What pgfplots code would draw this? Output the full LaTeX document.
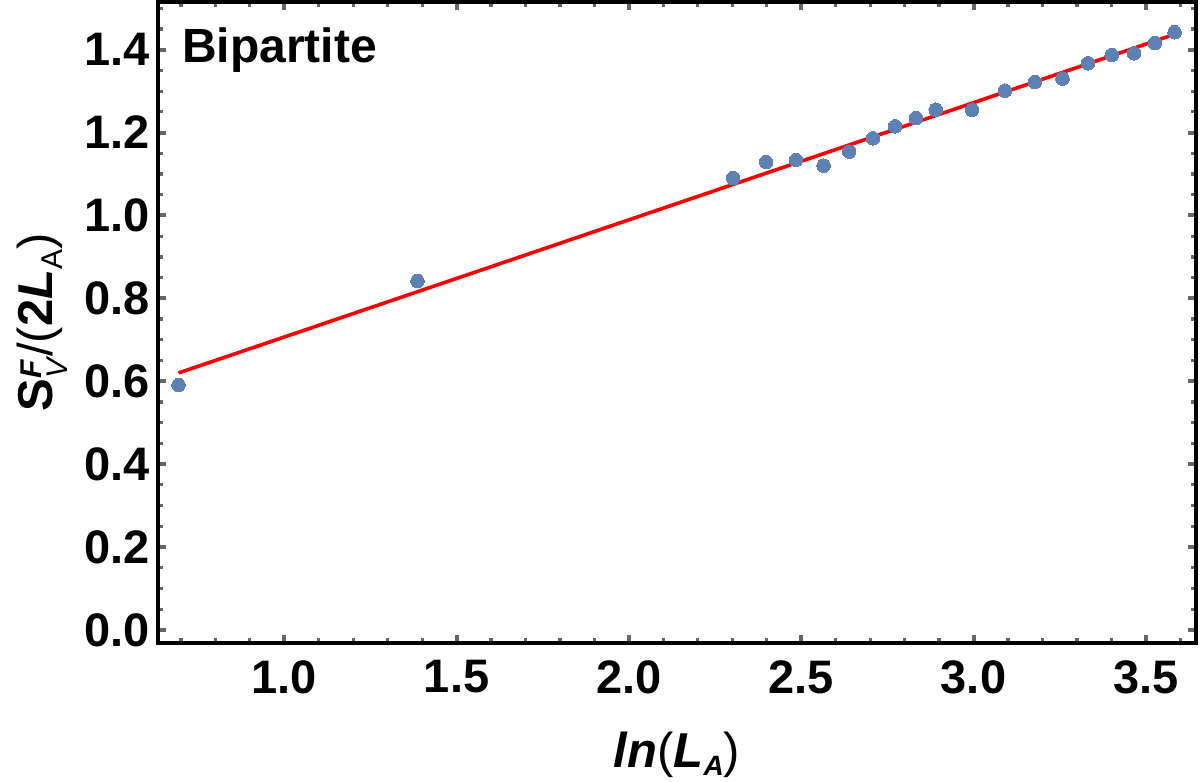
\documentclass[border=0pt]{standalone}
\usepackage{fontspec}
\setmainfont{Liberation Sans}
\usepackage{pgfplots}
\pgfplotsset{compat=1.18}

\definecolor{ptblue}{rgb}{0.368417,0.506779,0.709798}
\definecolor{tickgray}{gray}{0.4}

\begin{document}
\begin{tikzpicture}
\begin{axis}[
  scale only axis,
  width=518.9pt, height=320.5pt,
  xmin=0.6335, xmax=3.645,
  ymin=-0.0314, ymax=1.515,
  axis line style={line width=1.8pt, black},
  xtick={1,1.5,2,2.5,3,3.5},
  ytick={0,0.2,0.4,0.6,0.8,1.0,1.2,1.4},
  minor xtick={0.7,0.8,0.9,1.1,1.2,1.3,1.4,1.6,1.7,1.8,1.9,2.1,2.2,2.3,2.4,2.6,2.7,2.8,2.9,3.1,3.2,3.3,3.4,3.6},
  minor ytick={0.05,0.1,0.15,0.25,0.3,0.35,0.45,0.5,0.55,0.65,0.7,0.75,0.85,0.9,0.95,1.05,1.1,1.15,1.25,1.3,1.35,1.45,1.5},
  tick align=inside,
  xtick pos=both, ytick pos=both,
  ticklabel pos=left,
  major tick length=4pt, minor tick length=2.6pt,
  tick style={tickgray, line width=1.6pt},
  major tick style={line width=2pt},
  /pgf/number format/assume math mode=true,
  /pgf/number format/fixed,
  /pgf/number format/fixed zerofill,
  /pgf/number format/precision=1,
  tick label style={font=\fontsize{23.5}{28}\selectfont\bfseries},
  xticklabel style={inner sep=0pt, anchor=north, yshift=-8.5pt},
  yticklabel style={inner sep=0pt, anchor=east, xshift=-4pt},
  clip=false,
]
% measured values
\addplot[only marks, color=ptblue, mark=*, mark size=3.4pt, mark options={draw=ptblue, fill=ptblue, line width=0pt}] coordinates {
  (0.6931,0.591) (1.3863,0.842) (2.3026,1.090) (2.3979,1.129) (2.4849,1.134)
  (2.5649,1.120) (2.6391,1.154) (2.7081,1.186) (2.7726,1.215) (2.8332,1.235)
  (2.8904,1.255) (2.9957,1.255) (3.0910,1.301) (3.1781,1.322) (3.2581,1.330)
  (3.3322,1.367) (3.4012,1.387) (3.4657,1.391) (3.5264,1.416) (3.5835,1.442)
};
% linear fit
\addplot[red, line width=1.8pt] coordinates {(0.6931,0.620) (3.5835,1.437)};

\node[anchor=base west, inner sep=0pt, font=\fontsize{24}{28}\selectfont\bfseries]
  at (rel axis cs:0.0228,0.9053) {Bipartite};

\node[anchor=base, inner sep=0pt, font=\fontsize{24.5}{28}\selectfont]
  at (rel axis cs:0.5,-0.1939)
  {\textbf{\textit{ln}}(\textbf{\textit{L}}\raisebox{-3.9pt}{\fontsize{14}{14}\selectfont\bfseries\itshape A})};

\node[anchor=base, rotate=90, inner sep=0pt, font=\fontsize{24.5}{28}\selectfont]
  at (rel axis cs:-0.1021,0.5)
  {\textbf{S}\rlap{\raisebox{5.5pt}{\fontsize{15}{15}\selectfont\bfseries\itshape F}}\raisebox{-7.5pt}{\fontsize{15}{15}\selectfont\itshape V}\kern1pt/(\textbf{2}\textbf{\textit{L}}\raisebox{-5pt}{\fontsize{15}{15}\selectfont A})};

\coordinate (bbsw) at (rel axis cs:-0.15225,-0.21685);
\coordinate (bbne) at (rel axis cs:1.00405,1.00312);
\end{axis}
\pgfresetboundingbox
\useasboundingbox (bbsw) rectangle (bbne);
\end{tikzpicture}
\end{document}
